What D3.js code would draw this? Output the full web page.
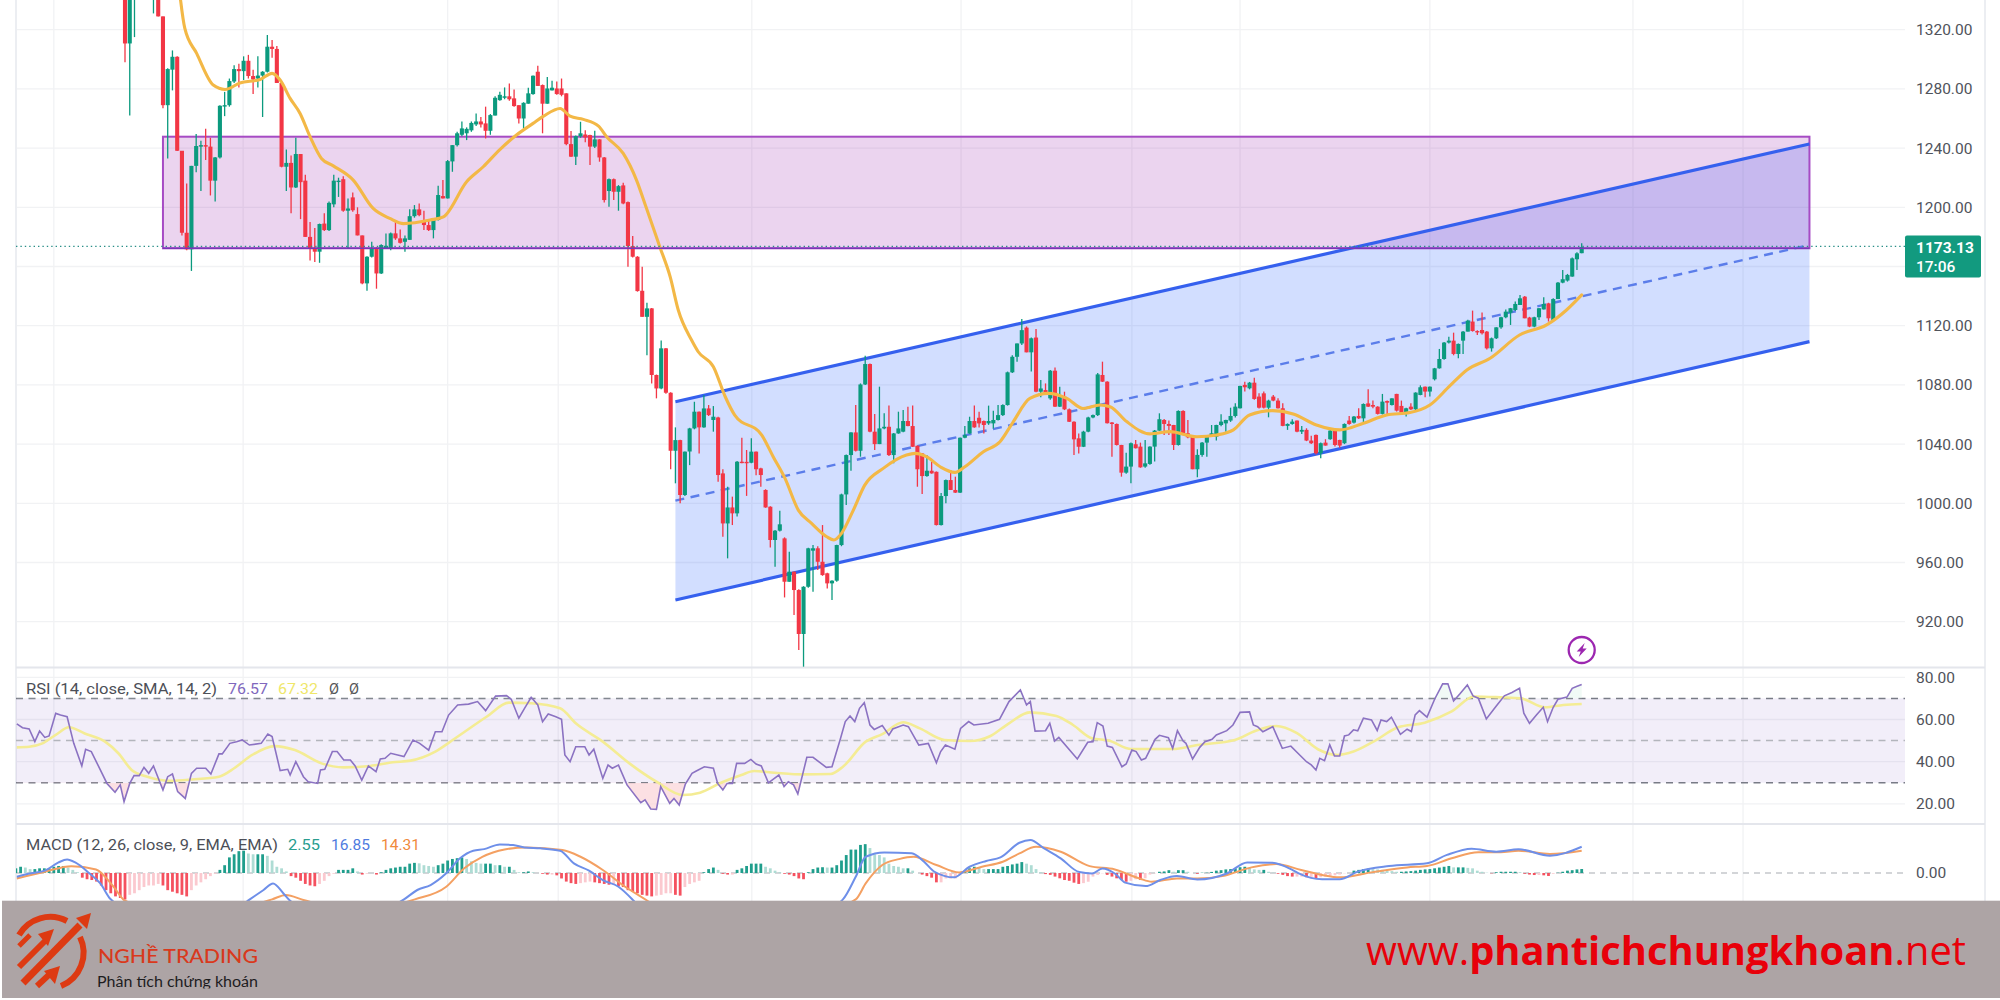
<!DOCTYPE html>
<html><head><meta charset="utf-8">
<script src="https://cdn.jsdelivr.net/npm/d3@7"></script>
<style>html,body{margin:0;padding:0;background:#fff}svg{display:block}text{font-family:Roboto,sans-serif}</style>
</head><body><svg id="c" width="2000" height="1000"></svg>
<script>
// ---- candles, indexed 0..307 ----
const barOpen=[1370,1310.7,1345,1365,1380,1370,1345,1350,1329,1269,
1293,1301.7,1238.2,1182.8,1171.6,1228,1241,1242,1241,1218,
1233.7,1268.5,1269,1285,1293.4,1292,1299,1288.7,1287,1289,
1291.6,1308.5,1307,1284,1227.4,1230,1213.4,1236,1218,1180,
1172.2,1170,1189,1184.6,1202,1218,1219,1197.7,1206.7,1195.4,
1181,1148.6,1166.6,1172,1155.3,1172.5,1172.5,1182.4,1179,1176.7,
1178,1194,1198.6,1191.4,1188,1184.6,1191.4,1207.6,1206,1231,
1242,1249,1250,1252,1256,1258,1256.7,1251.7,1262,1272.4,
1274,1275,1273.6,1269,1260,1270,1276.5,1291.6,1282.6,1270,
1279,1280.3,1280.3,1277,1242.7,1234.2,1248,1249.2,1248.8,1241,
1245.9,1233.7,1211,1219,1210.5,1214.8,1203.5,1173.8,1166.6,1143.6,
1126,1131.7,1086.7,1077.6,1104.7,1074.7,1035.5,1042.7,1005.6,1035,
1050.6,1061.9,1051.3,1064.1,1056.3,1058,1020.2,986.4,997.2,993.2,
1028.1,1028,1027.4,1034.9,1023.6,1009,997.7,975.2,981.5,976.3,
947,953.8,941.4,911.7,943.6,968,969.6,960.5,952.7,945.9,
947.7,971.8,1006,1032.6,1047.9,1035.5,1080.3,1094.1,1048.4,1040,
1050.6,1051.7,1032.6,1047.2,1048.4,1055.6,1052.2,1038.9,1033.7,1018.4,
1022,1021.3,985.3,1004.9,1015.7,1009,1007.2,1044.3,1047.2,1055.6,
1057.8,1055.6,1054,1054,1056.3,1059.6,1066.4,1088.5,1099,1108,
1118.7,1102,1112,1075.4,1076.5,1070.9,1089.6,1065.3,1072,1063.5,
1055.1,1043.9,1038.2,1048.4,1058,1059.6,1086.7,1082.2,1054.6,1053.6,
1039.4,1020.7,1024.8,1039.9,1038.3,1024.8,1026.6,1038.3,1049.1,1056.3,
1053.6,1052.9,1039.4,1062.4,1047.3,1045.5,1023,1032.7,1041,1045.5,
1045,1052.9,1054,1055.9,1059,1064.2,1080,1077.7,1081.5,1072.1,
1074.3,1064.6,1072.1,1069.4,1064.2,1052.3,1053.6,1055.9,1048.4,1049.6,
1042.4,1046.2,1033.8,1041,1043.3,1049.6,1042.8,1040.6,1055.9,1054.5,
1059,1057.4,1067.5,1066.4,1065.3,1060.4,1069.1,1066.4,1073.9,1065.8,
1061.3,1065.3,1063.5,1073.2,1078.8,1075.5,1083.8,1091.2,1097.5,1108.6,
1109.9,1100.9,1109.9,1116,1122.8,1116.4,1117.1,1116,1104.7,1111.5,
1118.9,1125.7,1128.8,1130.6,1134,1139.6,1125.5,1119.4,1125.7,1131,
1135.1,1123.9,1138,1149.1,1150.5,1153.2,1164.9,1169];
const barHigh=[1380,1360,1375,1390,1395,1380,1365,1355,1329,1294,
1306,1302,1238,1216,1228,1249.5,1245,1253,1247,1234,
1269,1278,1287,1296,1297,1302,1303,1293,1302,1292,
1316.4,1313,1309,1284,1239,1235,1247,1236,1222,1190,
1186,1189,1196,1204,1222,1220,1221,1206,1210,1200,
1181,1167,1176.7,1173,1175,1182.3,1183,1190,1185,1181,
1198.6,1201.5,1202.6,1197.7,1192,1192,1214.6,1218.4,1232,1242,
1251,1258,1254,1258,1263.4,1261,1268,1263,1275,1278,
1281,1283.7,1279.6,1269,1271,1280.8,1289,1295.6,1283,1288,
1285.5,1285,1287,1277,1251.5,1248.5,1257.8,1252,1249,1251.7,
1246,1234,1219.5,1219.5,1215,1216.6,1204,1180.6,1167,1159.8,
1135.5,1132,1087,1110,1105,1075,1051.3,1043,1035,1051,
1068.6,1062,1073.1,1066.4,1065.7,1058.5,1023,1011.2,1004.5,1028.5,
1044.3,1036,1043.9,1035,1024,1009.5,998,982,995,977,
967.3,954,942,944,970,971.8,971,985.3,953,948,
972,1006.5,1033,1048,1066.4,1081,1099.7,1094.5,1060.3,1078.8,
1060.8,1066,1047.5,1061.9,1063,1065.3,1066,1039,1034,1032.6,
1028,1021.5,1007,1016,1022.5,1018,1044.5,1052.2,1058.5,1066,
1061.9,1056,1066,1062.6,1066.4,1067,1089,1100,1108,1124.5,
1119.5,1112,1117.8,1083.3,1081,1090,1091.8,1078.8,1075.4,1064,
1055.5,1047.2,1049,1058.5,1060,1088,1095.7,1082.5,1055,1054,
1039.5,1034.2,1041,1042.8,1041,1042.8,1038.5,1049.5,1060.8,1057,
1055.9,1053,1062.8,1062.8,1056.3,1045.5,1036.5,1041.5,1046,1052.9,
1053,1060.1,1056.5,1064.6,1067.6,1079.5,1082.2,1082,1084.9,1074.3,
1075.5,1070,1073.2,1071,1067.6,1054,1056.8,1056,1052.3,1050.7,
1045.7,1046.5,1041,1043.3,1049.5,1050,1043,1054,1059,1059,
1064.2,1067.5,1077,1069.4,1065.5,1073.9,1069.5,1071,1074,1069.4,
1064.5,1067.6,1075,1079.7,1079,1079,1091.5,1104.3,1109,1112.6,
1115.3,1108,1116.5,1124,1130.2,1117,1129,1116.5,1112,1119,
1126,1131,1132,1136.3,1140.8,1140,1126,1126,1132,1139.2,
1135.5,1138.5,1149.5,1157.7,1155,1166,1169.6,1175.7];
const barLow=[1298,1262,1315,1350,1360,1345,1331,1329,1267,1233,
1279,1238,1181,1171,1157,1223.6,1211,1232,1208,1204,
1233,1261.6,1268,1284,1281,1286,1287,1276.5,1281,1261,
1291,1301,1284,1227,1211,1196,1213,1192,1180,1164,
1163,1162.5,1184,1184,1200,1207,1197,1172,1197,1181,
1148,1143.6,1166,1145,1155,1172,1171,1178,1175.5,1170,
1178,1193,1194,1184.6,1184,1179,1191,1206,1206,1224,
1241,1248,1245.4,1251,1255,1254,1246.5,1249,1262,1272,
1273,1272,1268,1256.7,1253.3,1270,1276,1282,1250,1270,
1279,1276,1275,1242,1234,1228.5,1247,1244,1228.5,1240,
1230.8,1203.3,1200.4,1205,1197.7,1202,1159.8,1166,1143,1126,
1100,1081,1070.9,1077,1074,1023,1013.5,1000,1005,1025.8,
1050,1033.7,1051,1059,1048.4,1014.6,977.4,962.8,985.3,991,
1027,1005,1027,1019,1011.2,997,970.2,957.2,981,936.4,
947,924.5,900.9,889.6,943,940.3,955,951,942.5,934.6,
947,971,998.8,1022,1035,1031.5,1080,1048,1036,1040,
1050,1032,1027,1047,1048,1052,1038,1011.2,1006.3,1018,
1020,985,985,1000,1009,1007,1007,1044,1047,1051,
1051.3,1047.2,1053,1050.6,1056,1059,1066,1088,1095.7,1107,
1102,1089,1075,1071.6,1074,1070,1065,1065,1063,1055,
1032.6,1033.7,1038,1048,1057.5,1059,1082,1054,1031.5,1039,
1018,1020,1013.5,1037,1024,1024,1026,1028.2,1049,1046.2,
1046.2,1036,1039,1046,1044,1023,1017.6,1031.5,1031.5,1045,
1042.4,1052,1048.4,1055,1058,1064,1075.5,1077,1070,1064,
1064,1058.1,1069,1064,1052,1049.6,1053,1048,1046.9,1042,
1040,1033,1030.4,1039,1043,1038.3,1037.6,1040,1053,1054,
1057,1054.1,1065,1064.2,1060,1060,1059,1066,1062,1061,
1058.6,1063,1063,1073,1071.6,1072.1,1083,1091,1097,1108,
1100,1098,1100.9,1116,1116,1113.8,1114,1104,1102.5,1111,
1118,1125,1120.5,1130,1134,1125,1119,1119,1123.9,1131,
1122.8,1123,1138,1148.6,1149.8,1153,1157.7,1169];
const barClose=[1310.7,1350,1365,1380,1370,1350,1360,1329,1269,1293.4,
1301.7,1238.2,1182.8,1171.6,1228,1241.4,1242,1241,1218,1233.7,
1268.6,1269,1285.3,1293.4,1292,1299,1288.7,1286.4,1289,1291.6,
1308.5,1307,1284,1227.4,1230,1213.4,1236,1217,1180,1172,
1170,1188.7,1184.6,1203,1218,1218,1197.7,1199.2,1198,1181,
1148.6,1166.6,1172,1155.3,1174.5,1174,1182.4,1179,1176,1179,
1194,1198.6,1194.7,1188,1184.6,1191.4,1208.3,1206,1231.2,1242,
1250,1253.3,1253,1257,1258,1256,1251.7,1262.3,1274,1276,
1275,1273,1268.4,1260,1270.6,1277,1288.9,1282,1270,1280.3,
1280.8,1276.5,1276,1242.7,1234.2,1248.1,1250,1247.2,1241,1245.9,
1233.7,1204.9,1219,1210.5,1214.3,1202.6,1173.8,1166.6,1143.4,1126,
1131.7,1086.7,1077.6,1104.7,1074.7,1035.5,1042.7,1005.6,1034.9,1050.6,
1061.9,1051.3,1064.1,1059.6,1058.5,1019.1,986.4,997.2,993.2,1028.1,
1027.4,1027.4,1034.9,1023,1019.1,997.2,975.2,981.5,985.8,947,
953.8,941.4,911.7,943.6,969.6,969.6,960.5,951.5,945.9,947.7,
971.8,1006,1032.6,1047.9,1035.5,1080.3,1094.1,1048.4,1040,1050.6,
1051.7,1032.6,1047.2,1050.6,1055.6,1052.2,1038.2,1023,1018.4,1022,
1020.2,985.3,1004.9,1015.7,1009,1007.2,1044.3,1046.1,1055.6,1051.3,
1054,1052.9,1055.6,1056.3,1059.6,1066.4,1088.5,1099,1108,1117,
1102,1111.5,1075.4,1077.6,1074.3,1089.6,1065.3,1072,1063.5,1055.1,
1043.2,1038.2,1048.4,1058,1059.6,1087.1,1082.2,1054.1,1053.6,1039.4,
1020.7,1024.8,1040.6,1037.2,1024.3,1027,1038.3,1049.1,1056.8,1053.6,
1052.3,1039.4,1062.4,1046.2,1044.6,1023,1032.7,1041,1045.5,1047.3,
1052.9,1055.2,1056.3,1059,1065.3,1079.3,1078.4,1081.5,1070.5,1064.6,
1064.6,1069.4,1069.4,1064.2,1052.3,1053.6,1055.2,1048.4,1049.6,1042.4,
1040.6,1033.8,1040.6,1039,1049.1,1039.4,1039,1053.6,1053.6,1058.6,
1057.4,1067.1,1065.3,1065.3,1060.4,1068.7,1068,1070.9,1062.6,1061.3,
1064.2,1063.5,1074.8,1078.4,1075.5,1078.8,1091.2,1097.5,1108.6,1109.9,
1100.9,1107.7,1116,1123.4,1116.4,1116,1114.9,1104.7,1111.5,1118.9,
1125.7,1129.5,1131.8,1134.7,1138.5,1125,1119.4,1125.7,1131.8,1134.7,
1125,1138,1149.1,1151.4,1154.3,1165.5,1168.9,1173.13];
// ---- moving average (bar index, price) ----
const maBar=[11,12.6,15.1,18.6,21.1,24.2,28.5,31,32.7,34.8,36.9,39,41.4,43.9,48.1,52.3,55.8,58.7,64.3,67.1,72,75.5,79,82.5,86,88.2,91.7,93.8,96.6,99.8,101.5,105,107.8,109.9,112.7,114.9,116.6,119.4,120.8,124,126.5,128.5,134.2,136.6,139.1,141.9,144.7,147.9,149.4,151,153.5,155.9,159.8,164.7,166.5,168.9,171.8,174.9,177,180.9,184.4,187.2,190.7,194.6,198.5,201.9,205.5,207.6,211.1,216,220.2,225.9,230.1,233.6,237,241.9,246.2,251.1,256,261,265.9,270.8,275,279.2,282.8,287.7,293.9,299.6,303.8,307];
const maVal=[1360,1321,1304,1282.6,1279.6,1284,1286.4,1290.5,1286,1273.6,1263.4,1247.7,1233,1228,1218.4,1199.2,1192.5,1189,1191.4,1193.6,1217.3,1227.4,1239,1248.8,1256.7,1261.6,1266.8,1261.6,1259.4,1254.9,1247.7,1236.4,1218.4,1199.3,1173.4,1153,1130.6,1110.3,1102.4,1092.3,1072,1059.6,1046.1,1031.5,1016.8,995.4,986.4,977.4,975.2,979.7,995.4,1012.3,1023.6,1032.6,1033.7,1031.5,1024.7,1020.9,1024.7,1034.9,1041.6,1055.1,1070.9,1074.3,1070.9,1064.1,1066.4,1065.3,1055.2,1046.9,1048.4,1045,1046.2,1049.6,1059.7,1062.6,1060.4,1052.9,1049.6,1054.1,1059.7,1061.3,1066.4,1079.3,1090.1,1098,1113.7,1120.5,1130.6,1140.8];
// ---- RSI ----
const rsiBar=[-22.8,-21.6,-20.2,-19,-18,-16.9,-16,-14.6,-13.6,-12.2,-10.8,-9.1,-8.3,-7.1,-5.2,-3.8,-2.1,-1,-.2,1,1.9,3,4,5,6,8,9,10,11.1,12.7,14,15.1,17,18.1,19.8,20.5,22.1,23.5,24.7,26.2,28.7,30.1,31,32.7,34.3,34.8,36,37.6,38.6,40.6,41.2,42.1,43.7,44.7,46.1,47.5,48.5,49.9,51.3,52.9,53.8,54.8,56,58.8,60.7,62.1,64,65.4,66.8,68.2,70.1,72.4,74.3,76,78.1,80.4,81.4,83,84.2,85.6,87,88,89.2,90.8,92,92.7,93.8,95,96.9,97.8,98.8,100.7,101.8,102.7,104,105.8,108.7,109.6,110.8,112,112.9,114.8,115.7,116.8,118.1,119.5,120.4,122.1,124,124.9,126,126.9,128,128.9,130.6,131.9,133,134.1,135.6,137.8,138.9,139.8,140.9,141.8,143.7,145,147.8,149,150.7,151.8,152.8,153.8,154.8,155.8,157,157.9,159.6,161,161.8,164,165.1,167.3,169.3,171,171.9,172.9,174.9,176.1,177.8,178.9,181.9,184.3,186.3,188.7,190,190.8,191.8,194,194.9,195.9,196.8,200.7,202.9,204,204.9,206.1,207,208.1,210.1,211,212.2,213.1,214.2,215.1,217.1,218,219.9,220.8,221.8,223,223.6,225,226.5,227.6,229.1,230,232.2,233.5,235,237,237.8,238.7,239.8,241.9,243.9,245.7,247.2,249,250,251,251.8,252.8,253.9,254.9,256,257,257.9,258.9,259.8,261,262.7,263.9,264.7,265.9,266.9,268.8,270.2,271.1,271.9,272.8,274.4,276,277.7,278.8,280,281.3,282.9,284.1,285.2,286.9,289,290.7,292.3,293.9,294.8,296,297.5,298.9,299.8,301,302,303.9,305,305.9,307];
const rsiVal=[57.9,56.1,55.5,49.5,54.5,51.5,52.2,62.9,62.1,61.3,48.7,38,45.9,44.8,36.1,29.7,25.5,29,21.1,29.7,33.4,33.4,37.3,34.5,38,26.6,32.9,34.2,25.8,22.6,34.5,36.9,36.9,34.2,43.7,43.7,48.7,49.5,50.3,47.9,48.7,53.1,51.9,35.8,36.4,33.7,40,32.9,30.5,29.7,36.1,36.4,44.8,44.8,40.8,40.8,38,31.3,38,35.3,41.3,41.6,44,42.4,50.3,48.7,45.5,54.2,54.2,62.1,66.9,67.3,68.5,64.2,71.1,71.3,69.6,60.6,65.3,70.5,66.9,59,62.6,61.3,60.1,43.2,40,47.1,47.1,43.2,45.9,32.1,38.4,36.9,38.4,29,20.6,21.9,17.6,17.4,28.2,20.3,22.6,19.5,29.4,34.5,35.6,37.6,36.9,29.7,26.6,29.7,29.7,39.2,39.2,41.1,38.9,38,30,33.7,28.2,30.5,29,24.7,42.1,42.1,37.3,37.6,50.3,59,61.7,59,65.3,68,57.4,55.3,57.1,52.6,55.5,57.4,56.6,47.9,48.7,39.5,44.8,47.9,45.9,55.8,59,57.4,58.2,60.1,68.5,74,66.9,68.5,54.5,54.7,58.2,49.8,51.5,41.3,49.2,49.5,58.5,56.9,47.4,46.8,37.6,38.9,45.5,44.8,40.8,41.6,50.6,52.5,51.4,46.3,54.7,49.8,48.7,41.3,46.8,49.5,50.6,52.7,54.7,57.4,63.4,63.6,57.4,56.6,54.2,56.6,46.3,47.4,44,40,38.5,36.1,41.6,40.5,48,42.7,42.7,52.2,52.7,55.1,54.6,60.6,59.8,54.8,59.8,59,61.1,53,55.4,54.3,62.2,64.2,61.1,69.6,76.9,76.9,68.8,72.1,76.4,71.2,70.1,60.3,66.4,71.2,72.8,74.8,63,58.2,62.2,65.8,59,65.8,69.6,70.6,74.8,75.6,76.57];
const smaBar=[-22.8,-20.2,-17.4,-14.6,-11.8,-8.5,-4.2,-1.4,1.4,4.7,9.4,14.1,19.8,23,26.8,31.5,35.8,41.4,46.1,51.7,56.4,60.2,65.4,69.6,76.2,80.9,85.6,91.7,95,100.7,106.3,112,117.6,121.2,125.6,129.9,132.6,136.9,143,148.7,151.3,156.1,159.6,164,167.5,172.7,178,182.4,186.3,190.7,196.3,199.8,203.8,207.3,212.1,220.8,226,233.9,238.3,242.6,247,251.4,255.6,258.9,263.1,268.3,273.9,279.6,284.3,289.9,294.2,299.3,303.1,307];
const smaVal=[46.8,47.1,48.7,52.7,56.3,53.4,49.5,44,36.1,32.9,31,31.6,32.9,36.9,43.2,47.4,45.5,39.2,37.3,38,39.7,40.5,44.8,51.1,61.3,68,67.7,65.3,58.2,49.5,39.2,30.5,24.2,25.3,30,33.7,35.6,34.8,34,34.2,37.6,49.5,53.1,58.7,55.8,50.3,49.8,52.2,58.2,63.4,61.7,57.4,51.1,50,46,46,47.9,50.3,54.7,56.9,53.5,45.9,43.2,44.8,49.5,56.3,58.5,63.8,70.9,70.5,70,65.8,66.9,67.32];
// ---- MACD lines ----
const macdBar=[-22.8,-19.8,-16.9,-14.1,-12.2,-10.4,-7.5,-5.2,-3,8,20,26.3,29.2,31.2,33.4,34.8,45,58.8,61.6,64.4,67.7,70.6,73.4,75.7,79,81.8,84.2,87.5,91.7,94.6,97.8,100.7,104,107.2,112,118,125,140,151.3,154,156.1,160,165.8,168.4,170.6,174.7,178,181.5,184.5,188.5,190.8,193.7,197.2,201.1,203.8,206,208.6,210.8,215.1,218.2,221.7,226,232.2,236.5,241.8,246.1,247.6,252.3,256,259.8,266.4,274.4,278.6,283.8,289,293.7,300.3,307];
const macdVal=[-2.4,-.2,1.5,6.6,8.7,6.6,-.2,-6.7,-16.9,-32,-30,-16.9,-10.9,-6.7,-13.1,-17.8,-30,-16.9,-10.9,-7.7,-.2,9.4,14.3,15.3,18.3,17.9,16.4,15.8,14.3,6.2,1.5,-4.5,-8.8,-17.8,-35,-50,-45,-35,-16.9,-2.4,10.4,13.2,12.6,7.2,.8,-2.8,4,7.7,10,19.4,21.1,15.8,9.4,.6,-.3,2.9,-.3,-6.2,-8.4,-4.5,-2,-4.1,-.3,6.8,6.6,1.9,-.6,-4,-4,.9,4.5,6.2,11.6,15.6,13.7,15.2,11.1,16.85];
const signalBar=[-22.8,-16.9,-11.3,-6.1,-2.4,0,15,31,33.9,37.6,48,61.1,67.7,71.5,75.3,80,84.7,92.2,96,100.7,105.4,110.1,120,135,154,156.1,159.6,163.1,166.2,171,175.8,180.6,185,188.5,192,197.2,203.3,208.6,213.8,216.4,221.7,226,231.3,237.4,242.6,247.9,252.3,256,262.7,270.2,274.4,279.6,285.2,289.9,293.7,300.3,307];
const signalVal=[-3.5,.8,4.4,2.3,-8.8,-17.8,-28,-16.9,-14.1,-17.3,-24,-16.9,-8.8,3,10.4,15.1,16.4,14.7,10.4,1.9,-8.8,-17.8,-40,-35,-16.9,-6.7,5.1,8.9,10.4,5.1,.4,4,7.2,12.6,16.8,13.6,4.4,2.3,-3.5,-5.6,-3.5,-3.5,-2,3.6,5.7,1.9,-1.3,-2.8,.4,3.6,4.5,9.4,13.3,13.3,14.3,12.2,14.31];
// ---- MACD histogram, bars -23..307 ----
const histFirstBar=-23;
const histVal=[3,4,3.5,2.5,2.5,3,3,3,4,4.5,4.5,3.5,2,.5,
-3,-4,-4.5,-5.5,-8,-11,-13,-15,-16,-17,-14,-13,-11,-9,-8,-8,-7,-8,-11,-12,-13,-14,-15,-11,-8,-6,-4,-2,-.5,
2,5,10,12,14,14.3,12.5,12,12,12,11,8,4,3,1,
-2,-3,-5,-7,-8,-8.5,-7,-5,-2,-.5,2,2,2,3,1,-1,-.5,0,-1,
.5,2,3,3.5,4,4,6,6.5,6.2,5,4.5,4,5,6,8,9,9.5,10,9,7.5,6.5,6,6,6,5,5,4,4,2,.5,.5,1,.5,0,
-.5,-1,-1,-1.5,-3.5,-5.5,-6.5,-7,-6.5,-6,-5.5,-6,-6.5,-7,-7.5,-7.5,-8.5,-9,-11,-12,-13,-14,-14.5,-15,-14.5,-14,-13,-13,-14,-14.5,-9,-7,-6,-5,
.5,2.5,3.5,2,-.5,-1,-1,2,3,4.5,6,6,6,4,3,1.5,.5,-.5,-1,-2,-3.5,-4,
.5,2.5,3.5,3.7,3.5,3.5,5,8,11.5,15,15,18,18.5,16,12,11.5,10,6,4.5,4,3,3,1.5,0,
-1,-2,-3,-6,-6,-3.5,-3.5,-3.5,-1,1.5,3,4,3.5,2.5,2.5,2.5,2.5,4,4.5,5.5,6,7,6,5,2.5,.5,
-.7,-1.2,-2.3,-3.4,-4.5,-5,-6.2,-7,-6.5,-5.6,-2.3,-1.2,-.2,-1.2,-2.3,-3.4,-4.5,-5.6,-5,-4,-4.5,-3.4,-1,-.2,
.8,1,1.8,.8,1.8,1.8,.8,0,-.5,.2,.2,.7,1.5,1.8,2.3,2.5,3,3.7,4,3.5,2.3,2,2,.8,.2,
-.5,-1.2,-2,-2.3,-2.3,-2.3,-2.7,-2.7,-3.4,-2.7,-2.3,-1.8,-1.5,-1,-.2,0,
1.5,2,2.5,2.8,2.5,2.3,2,1.5,1.2,.8,.8,1,1.2,1.5,2,2.3,2.5,3,3.5,4,4.5,3.6,3.6,3.6,3.3,3,1.5,.8,.2,-.2,.5,.8,.8,.8,.8,.5,-.5,-1,-1.3,-1.3,-1.5,-1.9,-.5,.2,.8,1.5,1.8,2.3,2.55];
// ---- drawings and ticks (bar index / price) ----
const zoneBars=[8,355], zonePrices=[1247.7,1172.3];
const channelBars=[116,355];
const channelTop=[1068.6,1242.8], channelMid=[1001.8,1174.5], channelBottom=[934.7,1109.2];
const lastPrice=1173.13;
const gridBars=[-15,24.9,68,91.3,132.1,176.2,212.2,235,275,317.8,341];
const priceTicks=[1320,1280,1240,1200,1160,1120,1080,1040,1000,960,920];
const priceTickLabels=priceTicks.filter(d=>d!==1160);
const rsiTicks=[80,60,40,20];
const rsiLevels=[70,50,30];

const C={up:'#0b9a7e',down:'#f23645',ma:'#f3b846',chan:'#3560ee',zone:'#9c27b0',grid:'#f1f2f4',sep:'#e4e6ec',txt:'#50535b'};
const L=16,R=1905,svg=d3.select('#c');
const x=d3.scaleLinear().domain([0,307]).range([125,1581.7]);
const y=d3.scaleLinear().domain([1320,920]).range([29.7,621.7]);
const yR=d3.scaleLinear().domain([80,20]).range([677.3,803.9]);
const yM=d3.scaleLinear().domain([0,20]).range([873,841.8]);
const zip=(a,b)=>a.map((v,i)=>[v,b[i]]);
const defs=svg.append('defs');
const clip=(id,a,b,c,d)=>defs.append('clipPath').attr('id',id).append('rect').attr('x',a).attr('y',b).attr('width',c-a).attr('height',d-b);
clip('pPrice',L,0,R,667); clip('pRsi',L,668,R,824); clip('pMacd',L,825,R,901);
clip('below',L,yR(30),R,824); clip('above',L,668,R,yR(70)); clip('sub',90,960,300,988.5);

// grid
svg.append('g').selectAll('line').data(gridBars).join('line')
 .attr('x1',x).attr('x2',x).attr('y1',0).attr('y2',901).attr('stroke',C.grid).attr('stroke-width',1.3);
svg.append('g').selectAll('line').data(priceTicks).join('line')
 .attr('x1',L).attr('x2',R).attr('y1',y).attr('y2',y).attr('stroke',C.grid).attr('stroke-width',1.3);
svg.append('g').selectAll('line').data(rsiTicks).join('line')
 .attr('x1',L).attr('x2',R).attr('y1',yR).attr('y2',yR).attr('stroke',C.grid).attr('stroke-width',1.3);
// frame
[[L,0,L,901],[1985,0,1985,901]].forEach(p=>svg.append('line').attr('x1',p[0]).attr('y1',p[1]).attr('x2',p[2]).attr('y2',p[3]).attr('stroke','#eceef2').attr('stroke-width',2));
[667.5,824].forEach(v=>svg.append('line').attr('x1',L).attr('x2',1985).attr('y1',v).attr('y2',v).attr('stroke',C.sep).attr('stroke-width',2));

// zone and channel fills
const pane=svg.append('g').attr('clip-path','url(#pPrice)');
pane.append('path').attr('fill','#2962ff').attr('fill-opacity',.21)
 .attr('d',d3.area().x(d=>x(d[0])).y0(d=>y(d[2])).y1(d=>y(d[1]))(channelBars.map((b,i)=>[b,channelTop[i],channelBottom[i]])));
pane.append('rect').attr('x',x(zoneBars[0])).attr('width',x(zoneBars[1])-x(zoneBars[0]))
 .attr('y',y(zonePrices[0])).attr('height',y(zonePrices[1])-y(zonePrices[0]))
 .attr('fill',C.zone).attr('fill-opacity',.2).attr('stroke','#a64bc4').attr('stroke-width',2);
const seg=d3.line().x(d=>x(d[0])).y(d=>y(d[1]));
pane.append('path').attr('d',seg(zip(channelBars,channelTop))).attr('stroke',C.chan).attr('stroke-width',3.2).attr('fill','none');
pane.append('path').attr('d',seg(zip(channelBars,channelBottom))).attr('stroke',C.chan).attr('stroke-width',3.2).attr('fill','none');
pane.append('path').attr('d',seg(zip(channelBars,channelMid))).attr('stroke','#5b7dea').attr('stroke-width',2.4).attr('stroke-dasharray','9 6.5').attr('fill','none');

// candles
const bars=barOpen.map((o,i)=>({i,o,h:barHigh[i],l:barLow[i],c:barClose[i]}));
const col=d=>d.c>=d.o?C.up:C.down;
pane.append('g').selectAll('line').data(bars).join('line')
 .attr('x1',d=>x(d.i)).attr('x2',d=>x(d.i)).attr('y1',d=>y(d.h)).attr('y2',d=>y(d.l)).attr('stroke',col).attr('stroke-width',1.3);
pane.append('g').selectAll('rect').data(bars).join('rect')
 .attr('x',d=>x(d.i)-2.05).attr('width',4.1).attr('y',d=>y(Math.max(d.o,d.c))).attr('height',d=>Math.max(1.4,Math.abs(y(d.o)-y(d.c)))).attr('fill',col);
// moving average
pane.append('path').attr('d',d3.line().x(d=>x(d[0])).y(d=>y(d[1])).curve(d3.curveMonotoneX)(zip(maBar,maVal)))
 .attr('fill','none').attr('stroke',C.ma).attr('stroke-width',3.1).attr('stroke-linecap','round');
// zone bottom edge, then the last price line
svg.append('line').attr('x1',x(zoneBars[0])).attr('x2',x(zoneBars[1])).attr('y1',y(zonePrices[1])).attr('y2',y(zonePrices[1]))
 .attr('stroke','#7a35b8').attr('stroke-width',1.6);
svg.append('line').attr('x1',L).attr('x2',R).attr('y1',y(lastPrice)-.6).attr('y2',y(lastPrice)-.6)
 .attr('stroke','#2a8f88').attr('stroke-width',1.3).attr('stroke-dasharray','1.4 3');

// price axis
const ax=(g,scale,vals)=>{g.call(d3.axisRight(scale).tickValues(vals).tickFormat(d3.format('.2f')).tickSize(0).tickPadding(0));
 g.select('.domain').remove();g.selectAll('text').attr('fill',C.txt).style('font-size','15.5px').style('font-family','Roboto,sans-serif');};
svg.append('g').attr('transform','translate(1916,0)').call(ax,y,priceTickLabels);
svg.append('g').attr('transform','translate(1916,0)').call(ax,yR,rsiTicks);
svg.append('g').attr('transform','translate(1916,0)').call(ax,yM,[0]);

// price badge
svg.append('rect').attr('x',1905).attr('y',y(lastPrice)-11.5).attr('width',76).attr('height',42).attr('rx',2).attr('fill','#129a7f');
svg.append('text').attr('x',1916).attr('y',y(lastPrice)+6).attr('fill','#fff').style('font-size','15.5px').style('font-weight',700).text(d3.format('.2f')(lastPrice));
svg.append('text').attr('x',1916).attr('y',y(lastPrice)+24.5).attr('fill','#fff').style('font-size','15.5px').style('font-weight',500).text('17:06');

// RSI pane
svg.append('rect').attr('x',L).attr('width',R-L).attr('y',yR(70)).attr('height',yR(30)-yR(70)).attr('fill','#7e57c2').attr('fill-opacity',.1);
rsiLevels.forEach(v=>svg.append('line').attr('x1',L).attr('x2',R).attr('y1',yR(v)).attr('y2',yR(v))
 .attr('stroke',v===50?'#b3b5bc':'#787b86').attr('stroke-width',1.5).attr('stroke-dasharray','7 5.5'));
const rsiPts=zip(rsiBar,rsiVal);
svg.append('path').attr('clip-path','url(#below)').attr('fill','#fbd5da').attr('fill-opacity',.75)
 .attr('d',d3.area().x(d=>x(d[0])).y0(yR(30)).y1(d=>yR(d[1]))(rsiPts));
svg.append('path').attr('clip-path','url(#above)').attr('fill','#dff3ea').attr('fill-opacity',.45)
 .attr('d',d3.area().x(d=>x(d[0])).y0(yR(70)).y1(d=>yR(d[1]))(rsiPts));
const gR=svg.append('g').attr('clip-path','url(#pRsi)');
gR.append('path').attr('d',d3.line().x(d=>x(d[0])).y(d=>yR(d[1])).curve(d3.curveMonotoneX)(zip(smaBar,smaVal)))
 .attr('fill','none').attr('stroke','#f4ec94').attr('stroke-width',2.6);
gR.append('path').attr('d',d3.line().x(d=>x(d[0])).y(d=>yR(d[1]))(rsiPts))
 .attr('fill','none').attr('stroke','#8b72c2').attr('stroke-width',1.6);

// MACD pane
const gM=svg.append('g').attr('clip-path','url(#pMacd)');
gM.append('line').attr('x1',L).attr('x2',R).attr('y1',yM(0)).attr('y2',yM(0)).attr('stroke','#c5c7cc').attr('stroke-width',1.3).attr('stroke-dasharray','6 5');
const hist=histVal.map((v,k)=>({b:histFirstBar+k,v,p:k?histVal[k-1]:v}));
const hc=d=>d.v>=0?(d.v>=d.p?'#1f9e8c':'#aedcd4'):(d.v<d.p?'#f5515f':'#fbc9cf');
gM.append('g').selectAll('rect').data(hist).join('rect')
 .attr('x',d=>x(d.b)-1.4).attr('width',2.8).attr('y',d=>Math.min(yM(d.v),yM(0))).attr('height',d=>Math.abs(yM(d.v)-yM(0))).attr('fill',hc);
const lm=d3.line().x(d=>x(d[0])).y(d=>yM(d[1])).curve(d3.curveMonotoneX);
gM.append('path').attr('d',lm(zip(signalBar,signalVal))).attr('fill','none').attr('stroke','#f4a062').attr('stroke-width',2);
gM.append('path').attr('d',lm(zip(macdBar,macdVal))).attr('fill','none').attr('stroke','#6e8fe9').attr('stroke-width',2);

// legends
const lg=(xp,yp,t,c,w)=>{const n=svg.append('text').attr('x',xp).attr('y',yp).attr('fill',c).style('font-size','15px').text(t);
 if(w)n.attr('textLength',w).attr('lengthAdjust','spacingAndGlyphs');};
lg(26,694,'RSI (14, close, SMA, 14, 2)','#4c4f57',191);
lg(228,694,'76.57','#8067bd',40);lg(278,694,'67.32','#efe76a',40);lg(329,694,'Ø','#555',10);lg(349,694,'Ø','#555',10);
lg(26,850,'MACD (12, 26, close, 9, EMA, EMA)','#4c4f57',252);
lg(288,850,'2.55','#2a9d8f',32);lg(331,850,'16.85','#4f7be0',39);lg(381,850,'14.31','#f08a3c',39);

// lightning marker
const mk=svg.append('g').attr('transform',`translate(${x(307)},650)`);
mk.append('circle').attr('r',13).attr('fill','#fff').attr('stroke','#9c27b0').attr('stroke-width',2.3);
mk.append('path').attr('d','M3,-7 L-5,1.5 L-1,1.5 L-3,7 L5,-1.5 L1,-1.5 Z').attr('fill','#9c27b0');

// footer band
svg.append('rect').attr('x',2).attr('y',900.7).attr('width',1998).attr('height',97.3).attr('fill','#ada4a5');
const lo=svg.append('g').attr('fill','none').attr('stroke','#dd3a12');
lo.append('path').attr('stroke-width',6).attr('d','M19,935 A36,36 0 0 1 67,921');
lo.append('path').attr('stroke-width',6).attr('d','M80,937 A36,36 0 0 1 61,986');
[['M23,983 L80,925',7],['M19,967 L46,940',6],['M19,946 L30,935',5],['M37,986 L52,972',6]].forEach(a=>lo.append('path').attr('stroke-width',a[1]).attr('d',a[0]));
const lf=svg.append('g').attr('fill','#dd3a12');
['M91,913 L76,918 L87,929 Z','M54,929 L38,934 L48,946 Z','M60,966 L44,971 L55,984 Z'].forEach(d=>lf.append('path').attr('d',d));
svg.append('text').attr('x',98).attr('y',963).attr('fill','#d9391c').attr('textLength',160).attr('lengthAdjust','spacingAndGlyphs')
 .style('font-size','19px').style('font-family','Lato,sans-serif').style('font-weight',500).text('NGHỀ TRADING');
svg.append('text').attr('clip-path','url(#sub)').attr('x',97).attr('y',986.5).attr('fill','#1d1d1f').attr('textLength',161).attr('lengthAdjust','spacingAndGlyphs')
 .style('font-size','15.5px').style('font-family','Lato,sans-serif').text('Phân tích chứng khoán');
const site=svg.append('text').attr('x',1366).attr('y',965).attr('fill','#e8000a').attr('textLength',600).attr('lengthAdjust','spacingAndGlyphs')
 .style('font-size','40px').style('font-family',"'Open Sans',sans-serif");
site.append('tspan').text('www.');
site.append('tspan').style('font-weight',700).text('phantichchungkhoan');
site.append('tspan').text('.net');
</script></body></html>
